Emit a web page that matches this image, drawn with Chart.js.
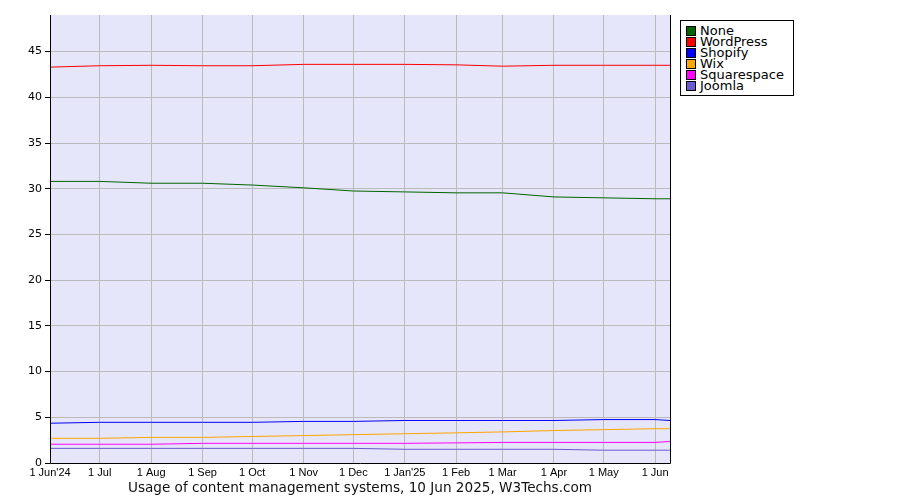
<!DOCTYPE html>
<html>
<head>
<meta charset="utf-8">
<script src="https://cdn.jsdelivr.net/npm/chart.js@4/dist/chart.umd.min.js"></script>
<style>
  html,body{margin:0;padding:0;background:#fff;}
  #wrap{position:relative;width:900px;height:500px;}
  #legend{position:absolute;left:680px;top:20px;width:112px;height:70px;border:1px solid #000;background:#fff;
    font-family:"DejaVu Sans",sans-serif;font-size:13px;line-height:11px;padding-top:4px;box-sizing:content-box;}
  #legend div{height:11px;white-space:nowrap;position:relative;padding-left:19px;}
  #legend span{position:absolute;left:5px;top:1px;width:8px;height:8px;border:1px solid #000;}
</style>
</head>
<body>
<div id="wrap">
  <canvas id="c" width="900" height="500"></canvas>
  <div id="legend"></div>
</div>
<script>
// Data points: first of each month, plus the report date
const dates = ["2024-06-01","2024-07-01","2024-08-01","2024-09-01","2024-10-01","2024-11-01","2024-12-01",
               "2025-01-01","2025-02-01","2025-03-01","2025-04-01","2025-05-01","2025-06-01","2025-06-10"];
const tickLabels = ["1 Jun'24","1 Jul","1 Aug","1 Sep","1 Oct","1 Nov","1 Dec","1 Jan'25","1 Feb","1 Mar","1 Apr","1 May","1 Jun"];
const seriesNames = ["None","WordPress","Shopify","Wix","Squarespace","Joomla"];
const seriesColors = ["#006400","#ff0000","#0000ff","#ffa500","#ff00ff","#6a5acd"];
const none        = [30.8,30.8,30.6,30.6,30.4,30.1,29.75,29.65,29.55,29.55,29.1,29.0,28.9,28.9];
const wordpress   = [43.3,43.45,43.5,43.45,43.45,43.6,43.6,43.6,43.55,43.4,43.5,43.5,43.5,43.5];
const shopify     = [4.35,4.45,4.45,4.45,4.45,4.55,4.55,4.65,4.65,4.65,4.65,4.75,4.75,4.65];
const wix         = [2.7,2.7,2.8,2.8,2.9,3.0,3.1,3.2,3.3,3.4,3.55,3.65,3.75,3.75];
const squarespace = [2.05,2.05,2.05,2.15,2.15,2.15,2.15,2.15,2.2,2.25,2.25,2.25,2.25,2.35];
const joomla      = [1.6,1.6,1.6,1.6,1.6,1.6,1.6,1.5,1.5,1.5,1.5,1.4,1.4,1.4];
const seriesValues = [none,wordpress,shopify,wix,squarespace,joomla];
const titleText = "Usage of content management systems, 10 Jun 2025, W3Techs.com";

const t0 = Date.parse(dates[0]);
const dayOf = d => Math.round((Date.parse(d) - t0) / 86400000);
const xs = dates.map(dayOf);
const tickDays = xs.slice(0, tickLabels.length);

const datasets = seriesNames.map((n,i)=>({
  label:n,
  data: seriesValues[i].map((v,j)=>({x:xs[j], y:v})),
  borderColor: seriesColors[i],
  backgroundColor: seriesColors[i],
  borderWidth: 1,
  pointRadius: 0,
  tension: 0,
  fill: false
}));

// HTML legend
const lg = document.getElementById('legend');
seriesNames.forEach((n,i)=>{
  const d = document.createElement('div');
  const s = document.createElement('span');
  s.style.background = seriesColors[i];
  d.appendChild(s);
  d.appendChild(document.createTextNode(n));
  lg.appendChild(d);
});

const bgPlugin = {
  id:'bg',
  beforeDraw(chart){
    const a = chart.chartArea, ctx = chart.ctx;
    ctx.save();
    ctx.fillStyle = '#e6e6fa';
    ctx.fillRect(a.left, a.top, a.right-a.left, a.bottom-a.top);
    ctx.restore();
  },
  afterDraw(chart){
    const a = chart.chartArea, ctx = chart.ctx;
    ctx.save();
    ctx.strokeStyle = '#000';
    ctx.lineWidth = 1;
    ctx.beginPath();
    ctx.moveTo(a.left+0.5, a.top);
    ctx.lineTo(a.left+0.5, a.bottom+0.5);
    ctx.lineTo(a.right+0.5, a.bottom+0.5);
    ctx.lineTo(a.right+0.5, a.top);
    ctx.stroke();
    ctx.restore();
  }
};

new Chart(document.getElementById('c'), {
  type:'line',
  data:{datasets},
  plugins:[bgPlugin],
  options:{
    responsive:false,
    animation:false,
    devicePixelRatio:1,
    layout:{padding:{top:15,right:230,left:0,bottom:0}},
    plugins:{legend:{display:false},tooltip:{enabled:false}},
    scales:{
      x:{
        type:'linear', min:0, max:xs[xs.length-1],
        afterBuildTicks(scale){ scale.ticks = tickDays.map(v=>({value:v})); },
        afterFit(scale){ scale.height = 37; },
        grid:{color:'#bbbbbb', drawTicks:false, lineWidth:1},
        border:{display:false},
        ticks:{
          autoSkip:false, maxRotation:0, padding:3,
          color:'#000',
          font:{family:'"Liberation Sans Narrow","Liberation Sans",sans-serif', size:11},
          callback(v){ const k = tickDays.indexOf(v); return k>=0 ? tickLabels[k] : ''; }
        },
        title:{display:true, text:titleText, color:'#111',
          font:{family:'"DejaVu Sans",sans-serif', size:13.6}, padding:{top:0,bottom:3}}
      },
      y:{
        min:0, max:49,
        afterBuildTicks(scale){ scale.ticks = scale.ticks.filter(t=>t.value%5===0); },
        afterFit(scale){ scale.width = 50; },
        grid:{color:'#bbbbbb', tickColor:'#000', tickLength:5, lineWidth:1},
        border:{display:false},
        ticks:{stepSize:5, padding:3, color:'#000',
          font:{family:'"DejaVu Sans",sans-serif', size:11}}
      }
    }
  }
});
</script>
</body>
</html>
